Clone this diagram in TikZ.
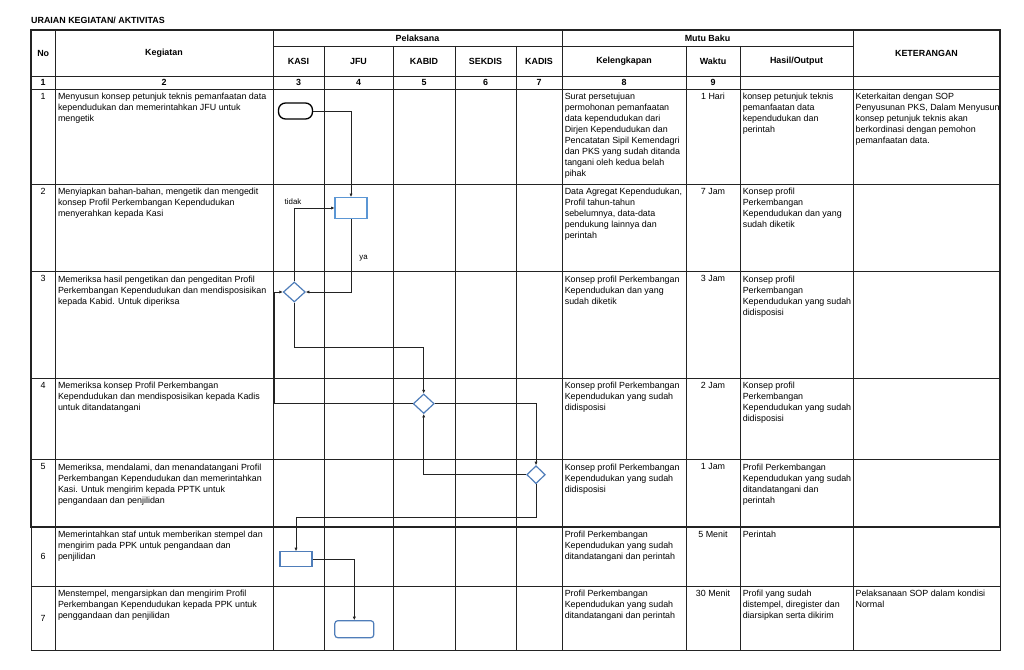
\documentclass[tikz,border=0pt]{standalone}
\usepackage{fontspec}
\setmainfont{Liberation Sans}
\usetikzlibrary{shapes.geometric,arrows.meta}
\definecolor{garis}{RGB}{35,35,35}
\definecolor{biru}{RGB}{79,125,185}
\definecolor{birumuda}{RGB}{91,150,212}
\begin{document}
\begin{tikzpicture}[x=1pt,y=-1pt,
  isi/.style={anchor=north west,inner sep=0pt,align=left,font=\fontsize{8.9}{11}\selectfont},
  tengah/.style={anchor=north,inner sep=0pt,align=center,font=\fontsize{8.9}{11}\selectfont},
  kop/.style={inner sep=0pt,font=\bfseries\fontsize{8.9}{11}\selectfont},
  tipis/.style={draw=garis,line width=0.7pt},
  tebal/.style={draw=garis,line width=1.5pt},
  proses/.style={draw=biru,line width=1.2pt,inner sep=0pt},
  putusan/.style={diamond,draw=biru,line width=1.2pt,inner sep=0pt},
  alur/.style={draw=garis,line width=0.6pt,-{Latex[length=3.4pt,width=3.2pt]}},
  kecil/.style={inner sep=0pt,font=\fontsize{7.9}{9}\selectfont}]
  \useasboundingbox (0,0) rectangle (1024,669);
  \fill[white] (0,0) rectangle (1024,669);

  % tabel
  \draw[tebal] (31,30) rectangle (1000,527);
  \draw[tebal] (31,76.5) -- (1000,76.5);
  \draw[tipis] (273,46) -- (853,46);
  \draw[tipis] (31,89) -- (1000,89);
  \foreach \y in {184,271.5,378,459.5}
    \draw[tipis] (31,\y) -- (1000,\y);
  \draw[tipis] (31,527) -- (31,650) -- (1000,650) -- (1000,527);
  \draw[tipis] (31,586) -- (1000,586);
  \foreach \x in {55.5,273,562,853}
    \draw[tipis] (\x,30) -- (\x,650);
  \foreach \x in {324,393,455,516,686,740}
    \draw[tipis] (\x,46) -- (\x,650);

  \node[kop,anchor=west] (judul) at (31,20) {URAIAN KEGIATAN/ AKTIVITAS};
  \node[kop] (hno) at (43.2,53) {No};
  \node[kop] (hkeg) at (164,53) {Kegiatan};
  \node[kop] (hpel) at (417.5,38) {Pelaksana};
  \node[kop] (hmutu) at (707.5,38) {Mutu Baku};
  \node[kop] (hket) at (926.5,53) {KETERANGAN};
  \foreach \x/\t [count=\i] in {298.5/KASI,358.5/JFU,424/KABID,485.5/SEKDIS,539/KADIS,624/Kelengkapan,713/Waktu,796.5/Hasil\slash Output}
    \node[kop] (hsub\i) at (\x,61.5) {\t};
  \foreach \x/\t [count=\i] in {43.2/1,164/2,298.5/3,358.5/4,424/5,485.5/6,539/7,624/8,713/9}
    \node[kop] (num\i) at (\x,82.8) {\t};

  % nomor baris
  \foreach \y/\t [count=\i] in {89/1,184/2,271.5/3,378/4,459.5/5}
    \node[tengah] (no\i) at (43.2,\y+4) {\t};
  \node[inner sep=0pt,font=\fontsize{8.9}{11}\selectfont] (no6) at (43.2,556.5) {6};
  \node[inner sep=0pt,font=\fontsize{8.9}{11}\selectfont] (no7) at (43.2,618) {7};

  % kegiatan
  \node[isi] (keg1) at (57.8,93) {Menyusun konsep petunjuk teknis pemanfaatan data\\kependudukan dan memerintahkan JFU untuk\\mengetik};
  \node[isi] (keg2) at (57.8,188) {Menyiapkan bahan-bahan, mengetik dan mengedit\\konsep Profil Perkembangan Kependudukan\\menyerahkan kepada Kasi};
  \node[isi] (keg3) at (57.8,275.5) {Memeriksa hasil pengetikan dan pengeditan Profil\\Perkembangan Kependudukan dan mendisposisikan\\kepada Kabid. Untuk diperiksa};
  \node[isi] (keg4) at (57.8,382) {Memeriksa konsep Profil Perkembangan\\Kependudukan dan mendisposisikan kepada Kadis\\untuk ditandatangani};
  \node[isi] (keg5) at (57.8,463.5) {Memeriksa, mendalami, dan menandatangani Profil\\Perkembangan Kependudukan dan memerintahkan\\Kasi. Untuk mengirim kepada PPTK untuk\\pengandaan dan penjilidan};
  \node[isi] (keg6) at (57.8,531) {Memerintahkan staf untuk memberikan stempel dan\\mengirim pada PPK untuk pengandaan dan\\penjilidan};
  \node[isi] (keg7) at (57.8,590) {Menstempel, mengarsipkan dan mengirim Profil\\Perkembangan Kependudukan kepada PPK untuk\\penggandaan dan penjilidan};

  % kelengkapan
  \node[isi] (lkp1) at (564.6,93) {Surat persetujuan\\permohonan pemanfaatan\\data kependudukan dari\\Dirjen Kependudukan dan\\Pencatatan Sipil Kemendagri\\dan PKS yang sudah ditanda\\tangani oleh kedua belah\\pihak};
  \node[isi] (lkp2) at (564.6,188) {Data Agregat Kependudukan,\\Profil tahun-tahun\\sebelumnya, data-data\\pendukung lainnya dan\\perintah};
  \node[isi] (lkp3) at (564.6,275.5) {Konsep profil Perkembangan\\Kependudukan dan yang\\sudah diketik};
  \node[isi] (lkp4) at (564.6,382) {Konsep profil Perkembangan\\Kependudukan yang sudah\\didisposisi};
  \node[isi] (lkp5) at (564.6,463.5) {Konsep profil Perkembangan\\Kependudukan yang sudah\\didisposisi};
  \node[isi] (lkp6) at (564.6,531) {Profil Perkembangan\\Kependudukan yang sudah\\ditandatangani dan perintah};
  \node[isi] (lkp7) at (564.6,590) {Profil Perkembangan\\Kependudukan yang sudah\\ditandatangani dan perintah};

  % waktu
  \foreach \y/\t [count=\i] in {89/1 Hari,184/7 Jam,271.5/3 Jam,378/2 Jam,459.5/1 Jam,527/5 Menit,586/30 Menit}
    \node[tengah] (wkt\i) at (713,\y+4) {\t};

  % hasil
  \node[isi] (hsl1) at (742.6,93) {konsep petunjuk teknis\\pemanfaatan data\\kependudukan dan\\perintah};
  \node[isi] (hsl2) at (742.6,188) {Konsep profil\\Perkembangan\\Kependudukan dan yang\\sudah diketik};
  \node[isi] (hsl3) at (742.6,275.5) {Konsep profil\\Perkembangan\\Kependudukan yang sudah\\didisposisi};
  \node[isi] (hsl4) at (742.6,382) {Konsep profil\\Perkembangan\\Kependudukan yang sudah\\didisposisi};
  \node[isi] (hsl5) at (742.6,463.5) {Profil Perkembangan\\Kependudukan yang sudah\\ditandatangani dan\\perintah};
  \node[isi] (hsl6) at (742.6,531) {Perintah};
  \node[isi] (hsl7) at (742.6,590) {Profil yang sudah\\distempel, diregister dan\\diarsipkan serta dikirim};

  % keterangan
  \node[isi] (ket1) at (855.4,93) {Keterkaitan dengan SOP\\Penyusunan PKS, Dalam Menyusun\\konsep petunjuk teknis akan\\berkordinasi dengan pemohon\\pemanfaatan data.};
  \node[isi] (ket7) at (855.4,590) {Pelaksanaan SOP dalam kondisi\\Normal};

  % bagan alir
  \node[draw=black,line width=1.3pt,rounded corners=7pt,minimum width=34pt,minimum height=16pt] (mulai) at (295.5,111) {};
  \node[proses,draw=birumuda,minimum width=32pt,minimum height=21pt] (ketik) at (351,208) {};
  \node[putusan,minimum width=22pt,minimum height=20pt] (cek1) at (294.3,292) {};
  \node[putusan,minimum width=21pt,minimum height=19.5pt] (cek2) at (423.7,403.7) {};
  \node[putusan,minimum width=18.5pt,minimum height=18pt] (cek3) at (536,474.7) {};
  \node[proses,minimum width=32pt,minimum height=15pt] (kirim) at (296,559.2) {};
  \node[proses,rounded corners=3pt,minimum width=39pt,minimum height=17pt] (selesai) at (354.3,629.2) {};
  \coordinate (belok1) at (0,347.7);
  \coordinate (belok2) at (274.7,0);
  \coordinate (belok3) at (0,517.3);

  \draw[alur] (mulai.east) -| (ketik.north);
  \draw[alur] (ketik.south) |- (cek1.east);
  \draw[alur] (cek1.north) |- (ketik.west);
  \draw[alur] (cek1.south) -- (cek1.south |- belok1) -| (cek2.north);
  \draw[alur] (cek2.west) -- (cek2.west -| belok2) |- (cek1.west);
  \draw[alur] (cek2.east) -| (cek3.north);
  \draw[alur] (cek3.west) -| (cek2.south);
  \draw[alur] (cek3.south) -- (cek3.south |- belok3) -| (kirim.north);
  \draw[alur] (kirim.east) -| (selesai.north);
  \node[kecil] (tidak) at (293,201.5) {tidak};
  \node[kecil] (ya) at (363.5,258.5) {ya};
\end{tikzpicture}
\end{document}
